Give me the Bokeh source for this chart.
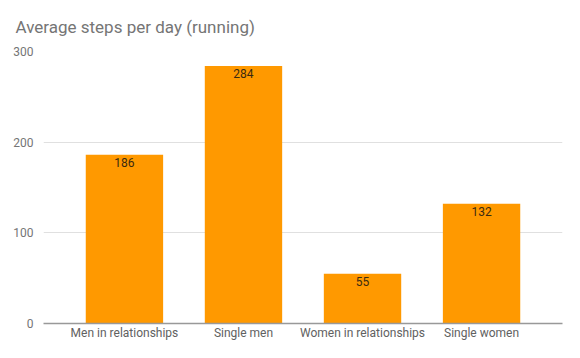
from bokeh.plotting import figure
from bokeh.models import ColumnDataSource, FactorRange, Range1d, LabelSet, SingleIntervalTicker
from bokeh.core.properties import value
from bokeh.embed import file_html
from bokeh.resources import INLINE

categories = ["Men in relationships", "Single men", "Women in relationships", "Single women"]
values = [186, 284, 55, 132]
labels = [str(v) for v in values]

src = ColumnDataSource(dict(cat=categories, val=values, lab=labels))

p = figure(width=564, height=342, output_backend="svg", toolbar_location=None,
           x_range=FactorRange(*categories, range_padding=0.09, range_padding_units="percent"),
           y_range=Range1d(0, 300),
           min_border_left=43, min_border_right=2, min_border_top=51, min_border_bottom=19)

p.vbar(x="cat", top="val", width=0.65, source=src, color="#ff9900", line_color=None)

p.add_layout(LabelSet(x="cat", y="val", text="lab", source=src, text_align="center",
                      text_baseline="top", y_offset=-3, text_font_size="12px",
                      text_font=value("Roboto"), text_color="#3a2a10"))

p.title.text = "Average steps per day (running)"
p.title.text_font = "Roboto"
p.title.text_font_size = "17px"
p.title.text_font_style = "normal"
p.title.text_color = "#757575"
p.title.offset = -28
p.title.standoff = 29

p.outline_line_color = None
p.background_fill_color = "white"
p.border_fill_color = "white"

p.yaxis.ticker = SingleIntervalTicker(interval=100)
p.yaxis.axis_line_color = None
p.yaxis.major_tick_line_color = None
p.yaxis.minor_tick_line_color = None
p.yaxis.major_tick_out = 0
p.yaxis.major_tick_in = 0
p.yaxis.major_label_text_font = "Roboto"
p.yaxis.major_label_text_font_size = "12px"
p.yaxis.major_label_text_color = "#757575"
p.yaxis.major_label_standoff = 6

p.xaxis.axis_line_color = "#999999"
p.xaxis.axis_line_width = 1.5
p.xaxis.major_tick_line_color = None
p.xaxis.minor_tick_line_color = None
p.xaxis.major_tick_out = 0
p.xaxis.major_tick_in = 0
p.xaxis.major_label_text_font = "Roboto"
p.xaxis.major_label_text_font_size = "12px"
p.xaxis.major_label_text_color = "#616161"
p.xaxis.major_label_standoff = 2

p.xgrid.grid_line_color = None
p.ygrid.grid_line_color = "#e0e0e0"
p.ygrid.ticker = SingleIntervalTicker(interval=100)

open("out.html", "w").write(file_html(p, INLINE))
